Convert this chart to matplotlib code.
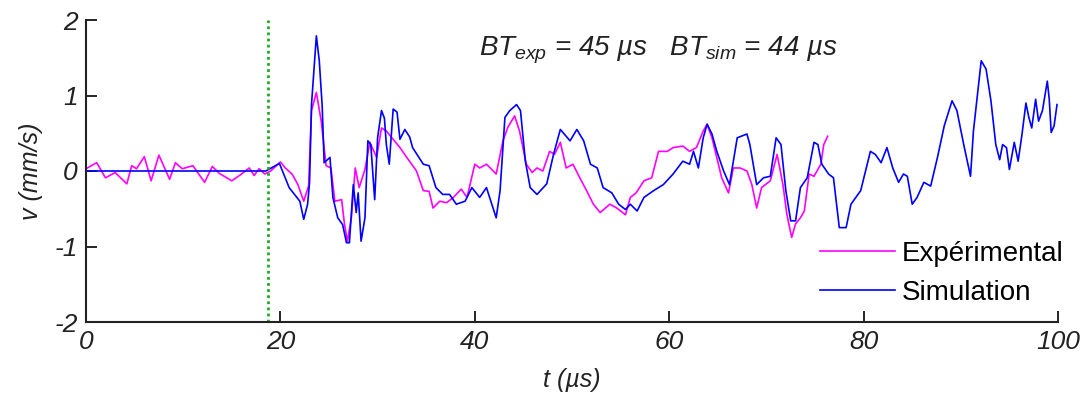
import numpy as np
import matplotlib
matplotlib.use('Agg')
import matplotlib.pyplot as plt

# velocity signals (t in us, v in mm/s)
t_exp = [0.0, 1.1, 2.0, 3.0, 4.2, 4.7, 5.2, 6.0, 6.7, 7.5, 8.6, 9.2, 9.9, 11.0, 12.2, 13.0, 13.7, 15.0,
         16.0, 16.8, 17.3, 17.8, 18.4, 19.0, 20.0, 20.5, 21.2, 21.8, 22.4, 22.9, 23.2, 23.7, 24.2, 24.7,
         25.2, 25.6, 26.3, 26.6, 26.9, 27.3, 27.7, 28.1, 28.7, 29.2, 29.9, 30.4, 30.9, 31.6, 32.3, 33.0,
         34.0, 34.7, 35.3, 35.7, 36.4, 37.1, 37.8, 38.6, 39.2, 40.0, 40.5, 41.2, 42.2, 42.9, 43.4, 44.1,
         44.6, 45.3, 45.9, 46.4, 47.0, 47.7, 48.2, 48.8, 49.4, 50.1, 50.8, 51.5, 52.2, 52.9, 53.9, 54.6,
         55.5, 56.0, 56.6, 57.4, 58.2, 58.9, 59.8, 60.4, 61.4, 62.1, 62.8, 63.5, 63.9, 64.4, 65.4, 66.1,
         66.6, 67.3, 68.0, 68.5, 69.0, 69.5, 70.4, 71.1, 71.7, 72.1, 72.6, 73.0, 73.5, 73.9, 74.4, 74.9,
         75.6, 75.9, 76.3]
v_exp = [0.03, 0.11, -0.09, -0.02, -0.17, 0.07, 0.03, 0.19, -0.13, 0.21, -0.11, 0.11, 0.03, 0.07, -0.15, 0.06, -0.03, -0.13,
         -0.04, 0.04, -0.06, 0.03, -0.04, 0.0, 0.12, 0.04, -0.04, -0.18, -0.4, -0.2, 0.8, 1.04, 0.66, 0.07,
         0.04, -0.4, -0.38, -0.71, -0.93, -0.62, 0.04, -0.22, 0.02, 0.38, 0.18, 0.57, 0.53, 0.42, 0.31, 0.18,
         0.0, -0.26, -0.27, -0.49, -0.4, -0.42, -0.35, -0.24, -0.35, 0.09, 0.04, 0.09, -0.04, 0.4, 0.58, 0.73,
         0.53, 0.09, -0.02, 0.04, 0.0, 0.26, 0.22, 0.38, 0.04, 0.09, -0.09, -0.26, -0.44, -0.55, -0.44, -0.49,
         -0.58, -0.35, -0.29, -0.13, -0.09, 0.26, 0.26, 0.31, 0.33, 0.26, 0.31, 0.53, 0.62, 0.44, -0.09, -0.29,
         0.04, 0.04, 0.0, -0.18, -0.49, -0.22, -0.13, 0.22, -0.18, -0.57, -0.88, -0.7, -0.62, -0.53, -0.04, -0.07,
         0.09, 0.35, 0.46]

t_sim = [0.0, 18.5, 19.9, 20.9, 22.0, 22.4, 22.8, 23.0, 23.2, 23.7, 24.0, 24.3, 24.5, 25.1, 25.4, 25.9, 26.4,
         26.8, 27.1, 27.5, 27.8, 28.0, 28.3, 28.7, 29.0, 29.3, 29.7, 30.0, 30.4, 30.7, 30.9, 31.2, 31.6, 32.0,
         32.3, 32.8, 33.3, 33.6, 34.7, 35.3, 36.0, 36.7, 37.4, 38.1, 39.0, 39.7, 40.5, 41.2, 42.2, 42.6, 43.1,
         43.6, 44.3, 44.7, 45.2, 45.7, 46.4, 47.4, 48.1, 48.8, 49.8, 50.5, 51.2, 51.9, 52.6, 53.2, 54.1, 54.8,
         55.5, 56.0, 56.7, 57.4, 58.4, 59.4, 60.4, 61.4, 62.1, 62.5, 63.0, 63.5, 63.9, 64.4, 64.9, 65.6, 66.2,
         67.0, 68.0, 68.3, 69.0, 69.7, 70.4, 71.0, 71.5, 72.0, 72.5, 73.0, 73.5, 74.2, 74.9, 75.3, 75.7, 76.4,
         76.9, 77.5, 78.2, 78.7, 79.7, 80.2, 80.7, 81.2, 81.8, 82.4, 83.0, 83.6, 84.1, 84.5, 85.0, 85.5, 86.2,
         86.9, 87.6, 88.3, 89.1, 89.6, 90.3, 91.0, 91.3, 92.1, 92.6, 93.1, 93.6, 94.0, 94.3, 94.7, 95.0, 95.5,
         95.9, 96.3, 96.7, 97.0, 97.3, 97.7, 98.0, 98.4, 98.9, 99.1, 99.3, 99.6, 99.9]
v_sim = [0.0, 0.0, 0.1, -0.22, -0.4, -0.64, -0.44, -0.15, 0.88, 1.79, 1.46, 0.86, 0.11, 0.18, -0.35, -0.62, -0.71,
         -0.95, -0.95, -0.18, -0.55, -0.29, -0.93, -0.62, 0.4, 0.35, -0.38, 0.44, 0.8, 0.7, 0.35, 0.09, 0.82, 0.78,
         0.42, 0.55, 0.45, 0.31, 0.09, 0.07, -0.22, -0.31, -0.31, -0.44, -0.4, -0.22, -0.35, -0.22, -0.62, -0.26, 0.71,
         0.8, 0.88, 0.8, 0.13, -0.22, -0.31, -0.17, 0.22, 0.55, 0.4, 0.55, 0.4, 0.09, 0.04, -0.22, -0.29, -0.44,
         -0.51, -0.44, -0.53, -0.35, -0.26, -0.18, -0.04, 0.13, 0.09, 0.26, 0.04, 0.44, 0.62, 0.49, 0.26, 0.0, -0.18,
         0.44, 0.49, 0.35, -0.18, -0.09, -0.07, 0.44, 0.35, -0.26, -0.66, -0.66, -0.22, -0.09, 0.38, 0.35, 0.09, -0.04,
         -0.09, -0.75, -0.75, -0.44, -0.26, 0.0, 0.26, 0.22, 0.11, 0.31, 0.04, -0.15, -0.04, -0.07, -0.44, -0.35, -0.15,
         -0.2, 0.18, 0.6, 0.93, 0.8, 0.35, -0.07, 0.53, 1.46, 1.35, 0.93, 0.35, 0.15, 0.35, 0.31, 0.02, 0.38,
         0.13, 0.49, 0.9, 0.71, 0.57, 0.95, 0.66, 0.8, 1.19, 0.95, 0.51, 0.6, 0.88]

t_bt = 18.7
x_ticks = [0, 20, 40, 60, 80, 100]
y_ticks = [-2, -1, 0, 1, 2]

plt.rcParams['font.family'] = ['Liberation Sans', 'DejaVu Sans']
plt.rcParams['mathtext.fontset'] = 'custom'
plt.rcParams['mathtext.it'] = 'Liberation Sans:italic'
plt.rcParams['mathtext.rm'] = 'Liberation Sans'

fig = plt.figure(figsize=(10.86, 4), dpi=100)
ax = fig.add_axes([86/1086, 78/400, 972/1086, 302/400])

ax.plot(t_exp, v_exp, color='#ff00ff', lw=1.2, label='Expérimental')
ax.plot(t_sim, v_sim, color='#0000ff', lw=1.2, label='Simulation')
ax.axvline(t_bt, color='#22aa22', ls=(0, (1, 1.2)), lw=2)

ax.set_xlim(0, 100)
ax.set_ylim(-2, 2)
ax.set_xticks(x_ticks)
ax.set_yticks(y_ticks)
ax.set_xticklabels([str(x) for x in x_ticks], fontstyle='italic', fontsize=19, color='#222222')
ax.set_yticklabels([str(y) for y in y_ticks], fontstyle='italic', fontsize=19, color='#222222')
ax.tick_params(direction='in', length=8, width=1.2, pad=6)
for s in ['top', 'right']:
    ax.spines[s].set_visible(False)
for s in ['left', 'bottom']:
    ax.spines[s].set_linewidth(1.5)
    ax.spines[s].set_color('#222222')

ax.set_xlabel('t (µs)', fontstyle='italic', fontsize=18, color='#222222', labelpad=10)
ax.set_ylabel('v (mm/s)', fontstyle='italic', fontsize=18, color='#222222', labelpad=8)

ax.text(0.589, 0.9, r'$BT_{exp}$ = 45 µs   $BT_{sim}$ = 44 µs', transform=ax.transAxes,
        ha='center', va='center', fontsize=20, fontstyle='italic', color='#222222')

ax.legend(loc='upper left', bbox_to_anchor=(820/1086, 1 - 241/400), bbox_transform=fig.transFigure,
          frameon=False, fontsize=20, handlelength=2.7, handletextpad=0.25, labelspacing=0.46,
          borderpad=0, borderaxespad=0)

fig.savefig('out.png', dpi=100)
